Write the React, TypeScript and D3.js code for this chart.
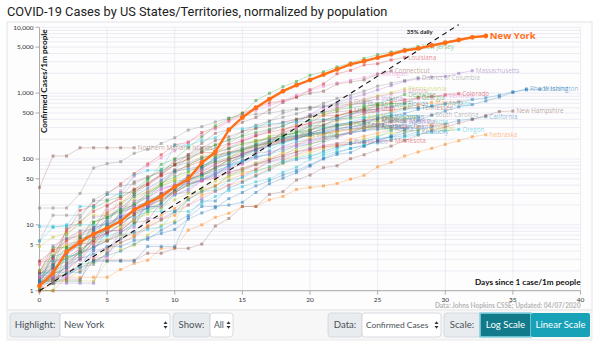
import React from "react";
import * as d3 from "d3";

const W = 600;
const H = 346;

const titleText = "COVID-19 Cases by US States/Territories, normalized by population";
const yTickValues = [1, 5, 10, 50, 100, 500, 1000, 5000, 10000];
const yTickLabels = ["1", "5", "10", "50", "100", "500", "1,000", "5,000", "10,000"];
const xTickValues = [0, 5, 10, 15, 20, 25, 30, 35, 40];
const growthLabel = "35% daily";
const growthRate = 0.35;
const growthDays = [0, 31];

const newYork = [1.18, 1.85, 3.9, 5.45, 7.3, 8.9, 11.3, 16.9, 21.6, 27, 37.6, 49.7, 87.7, 128, 276, 427, 602, 812, 1073, 1320, 1584, 1916, 2295, 2744, 3063, 3454, 3899, 4438, 4770, 5289, 5830, 6410, 7050, 7380];
const newJersey = [1.2, 1.7, 2.6, 3.3, 7.8, 11, 20, 30, 48, 83, 100, 149, 215, 320, 413, 495, 774, 994, 1252, 1507, 1873, 2105, 2505, 2881, 3366, 3842, 4222, 4626, 5100];
const louisiana = [2.8, 4.1, 7.7, 16.6, 19.6, 29, 42, 60, 84, 116, 164, 180, 252, 298, 386, 496, 590, 713, 761, 866, 1126, 1381, 1968, 2214, 2687, 2798, 3197, 3502];
const connecticut = [1.7, 3.1, 6.2, 6.7, 8.4, 19, 27, 45, 54, 62, 92, 116, 173, 245, 283, 362, 427, 558, 720, 876, 996, 1071, 1376, 1478, 1590, 1934, 2180];
const michigan = [2.5, 3.3, 5.3, 5.4, 6.5, 8.3, 33, 55, 79, 104, 133, 179, 230, 286, 366, 465, 549, 650, 762, 934, 1080, 1275, 1424, 1573, 1724, 1960];
const massachusetts = [1.0, 1.9, 4.0, 6.0, 13, 14, 16, 18, 20, 24, 29, 32, 48, 60, 76, 94, 113, 168, 267, 351, 470, 618, 719, 835, 960, 1123, 1301, 1509, 1650, 1750, 1800, 2000, 2190];
const districtOfColumbia = [5.7, 14, 14, 14, 23, 24, 31, 31, 44, 57, 100, 109, 139, 164, 194, 259, 327, 378, 431, 485, 568, 702, 831, 926, 1073, 1279, 1415, 1556, 1717];
const pennsylvania = [1.1, 1.7, 3.2, 3.7, 5.2, 6.0, 8.8, 11.9, 16, 24, 31, 40, 55, 74, 98, 140, 183, 222, 268, 325, 388, 469, 568, 670, 783, 905, 1014, 1160];
const delaware = [1.0, 1.0, 4.1, 6.2, 7.2, 8.2, 16, 20, 31, 39, 46, 48, 70, 107, 122, 134, 168, 220, 238, 271, 328, 378, 404, 462, 609, 692, 805, 954];
const vermont = [1.6, 1.6, 1.6, 3.2, 3.2, 3.2, 8.0, 12.8, 19, 19, 29, 35, 46, 78, 83, 120, 152, 196, 252, 294, 337, 375, 409, 468, 513, 540, 621, 736, 818, 867, 919];
const colorado = [1.4, 1.4, 2.1, 3.0, 5.9, 7.8, 8.5, 17.5, 23, 28, 32, 48, 63, 82, 103, 125, 158, 189, 248, 301, 358, 456, 456, 515, 580, 647, 724, 793, 859, 898, 943, 982];
const washington = [1.4, 2.4, 3.5, 5.1, 9.2, 10.2, 13.4, 16, 18, 21, 35, 48, 58, 75, 84, 119, 141, 156, 181, 200, 236, 262, 292, 306, 340, 421, 457, 489, 566, 643, 695, 737, 800, 850, 930, 1050, 1120, 1145];
const rhodeIsland = [1.9, 1.9, 1.9, 1.9, 2.8, 2.8, 2.8, 2.8, 4.7, 4.7, 4.7, 13, 19, 19, 20, 22, 31, 42, 51, 62, 78, 100, 117, 125, 156, 192, 225, 277, 385, 460, 534, 620, 671, 760, 870, 1021, 1160];
const newHampshire = [1.5, 1.5, 1.5, 1.5, 2.9, 2.9, 2.9, 2.9, 3.7, 3.7, 4.4, 4.4, 5.1, 9.6, 12.5, 19, 19, 29, 32, 48, 57, 74, 79, 101, 116, 138, 157, 190, 231, 270, 305, 352, 397, 457, 526, 535];
const california = [1.34, 1.52, 1.75, 2.2, 2.9, 3.4, 4.0, 5.1, 6.4, 7.4, 8.5, 12.2, 15.2, 18, 25, 31, 39, 47, 57, 67, 81, 103, 124, 145, 158, 188, 217, 249, 278, 309, 340, 384, 406, 439];
const oregon = [1.7, 1.7, 3.3, 3.6, 4.5, 5.7, 7.1, 7.6, 8.5, 9.3, 16, 16, 21, 27, 33, 38, 45, 50, 63, 75, 99, 114, 130, 144, 164, 175, 197, 214, 238, 254, 270, 281];
const nebraska = [1.0, 1.0, 1.6, 1.6, 1.6, 1.6, 2.1, 2.6, 2.9, 4.4, 4.5, 8.3, 10, 13, 15, 19, 19, 24, 27, 34.5, 37, 39, 42.5, 49.5, 56.5, 76, 89, 111, 128, 145, 167, 189, 218, 233];
const kentucky = [1.8, 1.8, 2.2, 3.1, 3.6, 4.7, 4.7, 5.8, 6.0, 8.3, 10.7, 14, 23, 23, 36, 44, 55, 68, 88, 98, 107, 132, 152, 172, 186, 205, 214, 226, 257];
const hawaii = [1.4, 1.4, 1.4, 1.4, 1.4, 2.8, 4.2, 4.9, 7.0, 9.9, 11.3, 26, 34, 39, 54, 63, 67, 75, 85, 106, 123, 144, 158, 182, 201, 225, 247, 261, 273, 289];
const southCarolina = [1.4, 1.4, 1.9, 2.3, 2.5, 3.7, 5.4, 6.4, 9.1, 11.7, 15.7, 24, 33, 38, 58, 66, 82, 91, 105, 128, 150, 180, 210, 251, 302, 330, 372, 398, 433, 469];
const tennessee = [1.0, 1.3, 2.6, 3.8, 4.7, 5.7, 7.6, 10.8, 11.6, 22.5, 34, 54, 74, 90, 98, 115, 140, 176, 201, 225, 269, 328, 393, 429, 486, 532, 557, 585, 606];
const florida = [1.3, 1.6, 2.3, 3.5, 5.4, 7.2, 10, 14.6, 18, 26, 31, 47, 57, 66, 78, 110, 135, 175, 198, 255, 314, 324, 419, 478, 537, 575, 620, 687];
const nevada = [1.3, 1.3, 1.6, 2.3, 4.5, 6.8, 7.8, 10, 18, 18, 28, 35, 52, 62, 80, 90, 104, 136, 174, 202, 240, 299, 327, 361, 415, 473, 492, 566, 596, 634, 678];
const illinois = [2.0, 2.5, 3.6, 5.1, 7.3, 8.3, 12.7, 22.6, 33, 46, 59, 83, 101, 121, 147, 200, 239, 276, 363, 399, 473, 551, 607, 703, 817, 888, 968, 1069];
const indiana = [1.8, 2.2, 2.8, 3.7, 4.5, 5.8, 8.3, 11.7, 18.7, 30, 38, 54, 71, 96, 146, 183, 225, 265, 321, 381, 452, 511, 587, 655, 735, 818];
const georgia = [1.6, 2.2, 2.9, 4.0, 6.2, 9.3, 11.4, 13.8, 18.8, 27, 40, 48, 57, 73, 97, 118, 144, 189, 223, 250, 265, 388, 448, 505, 563, 627, 690, 713, 864];
const maryland = [1.0, 1.3, 1.5, 2.0, 3.0, 4.3, 5.3, 6.8, 9.9, 14, 17.7, 25, 31, 40, 48, 58, 70, 96, 128, 164, 205, 234, 274, 328, 385, 456, 517, 597, 669, 722];
const ohio = [1.1, 2.2, 3.2, 4.3, 5.7, 7.5, 10.2, 14.4, 21, 30, 38, 48, 60, 74, 97, 120, 141, 165, 188, 218, 248, 283, 320, 346, 380, 409];
const texas = [1.3, 2.0, 2.5, 2.9, 4.9, 9.0, 13.6, 20, 26, 34, 42, 54, 67, 85, 99, 113, 138, 161, 184, 211, 235, 251, 285, 308, 330];
const virginia = [2.0, 3.5, 4.9, 5.8, 6.1, 8.7, 9.5, 11.8, 14.6, 18, 24, 30, 35, 46, 54, 71, 87, 104, 120, 138, 165, 200, 235, 260, 295, 360, 429];
const northCarolina = [1.4, 2.3, 3.1, 3.9, 6.0, 8.8, 12, 17, 24, 29, 35, 40, 48, 60, 72, 92, 108, 119, 135, 157, 170, 190, 225, 250, 275, 307];
const wisconsin = [1.4, 3.3, 3.8, 5.5, 8.2, 12, 18, 27, 36, 48, 65, 71, 78, 98, 121, 144, 167, 191, 212, 225, 250, 285, 330, 360, 380, 410, 443];
const missouri = [1.0, 1.6, 2.4, 3.9, 5.9, 9.4, 15, 29, 41, 60, 82, 116, 147, 190, 217, 262, 292, 322, 359, 403, 436, 470, 520, 542];
const mississippi = [2.0, 3.4, 7.0, 11, 18, 23, 27, 34, 50, 70, 83, 100, 130, 163, 195, 221, 254, 282, 315, 395, 445, 510, 555, 605, 640, 672];
const utah = [1.9, 3.1, 8.4, 11, 16, 20, 25, 35, 42, 57, 82, 99, 125, 126, 166, 188, 225, 254, 282, 317, 345, 385, 450, 520, 540, 577];
const maine = [1.5, 2.2, 9, 12.7, 24, 31, 39, 42, 52, 66, 80, 88, 106, 116, 125, 157, 189, 205, 226, 257, 281, 322, 340, 351, 372, 387];
const idaho = [2.8, 2.8, 4.5, 5.0, 6.1, 13, 17, 23, 26, 41, 69, 106, 128, 146, 173, 232, 293, 374, 498, 566, 602, 615, 654, 676, 688];
const guam = [18, 18, 18, 30, 73, 85, 91, 122, 140, 172, 210, 275, 310, 365, 420, 450, 480, 500, 540, 580, 610, 640, 690, 745];
const virginIslands = [9.5, 9.5, 9.5, 19, 19, 29, 29, 57, 67, 67, 162, 162, 190, 210, 286, 286, 314, 343, 352, 362, 381, 400, 410, 419, 429, 438];
const minnesota = [1.6, 2.5, 3.9, 6.2, 6.6, 9.9, 13, 15.6, 19.3, 24, 31, 41, 47, 51, 62, 70, 82, 98, 112, 129, 140, 152, 161, 170, 178, 184, 190];
const puertoRico = [1.6, 1.6, 1.6, 2.5, 4.1, 4.4, 6.0, 7.8, 12.5, 12.5, 16, 20, 25, 32, 40, 54, 70, 90, 99, 118, 143, 161, 172, 180];
const westVirginia = [1.1, 4.5, 4.5, 6.7, 11, 13, 15.6, 21, 29, 43, 54, 65, 79, 91, 106, 134, 158, 180, 212, 231];
const northernMariana = [37, 111, 111, 148, 148, 148, 148, 148];
const kansas = [1.7, 2.8, 3.1, 3.8, 6.2, 7.6, 15, 19, 22, 29, 39, 56, 77, 104, 115, 139, 160, 177, 200, 219, 241, 251, 275, 290, 300, 310];
const iowa = [2.5, 4.1, 4.8, 5.1, 5.4, 5.7, 7.0, 7.0, 9.5, 12, 14, 20, 28, 33, 40, 46, 57, 71, 95, 113, 134, 156, 170, 200, 222, 248, 275, 292, 310, 333];
const oklahoma = [1.8, 2.5, 4.5, 4.5, 11, 13, 17, 20, 27, 41, 63, 81, 102, 124, 143, 170, 185, 203, 226, 251, 278, 301, 320, 335];
const arkansas = [2.0, 4.0, 5.7, 7.3, 9.0, 15, 21, 33, 40, 55, 67, 78, 93, 113, 127, 138, 157, 174, 190, 207, 227, 247, 262, 283, 292, 315];
const newMexico = [1.9, 4.8, 6.2, 8.1, 8.6, 11, 13, 17, 20, 27, 31, 40, 48, 54, 63, 72, 85, 97, 113, 150, 171, 191, 222, 255, 297, 322, 378];
const southDakota = [5.7, 9.1, 10, 10, 10, 10, 12, 13, 16, 16, 16, 24, 32, 34, 47, 52, 64, 77, 92, 103, 114, 122, 143, 171, 183, 215, 271, 363];
const northDakota = [1.3, 1.3, 1.3, 1.3, 1.3, 3.9, 7.9, 9.2, 25, 37, 39, 42, 47, 59, 68, 86, 124, 129, 143, 166, 187, 209, 228, 245, 272, 296, 312];
const montana = [4.7, 6.5, 7.5, 10, 14, 14, 18, 25, 32, 43, 49, 61, 84, 112, 122, 144, 161, 173, 194, 212, 225, 246, 260, 279, 300];
const wyoming = [1.7, 1.7, 1.7, 5.2, 5.2, 17, 19, 19, 31, 34, 40, 45, 48, 64, 72, 83, 103, 121, 150, 162, 179, 206, 225, 258, 322, 340, 359, 372];
const alaska = [1.4, 1.4, 1.4, 1.4, 4.1, 8.2, 8.2, 12, 19, 19, 30, 42, 49, 56, 81, 96, 108, 116, 156, 182, 196, 215, 233, 252, 270, 280, 292];
const alabama = [1.2, 2.4, 5.9, 8.0, 10.4, 16, 22, 27, 32, 40, 49, 79, 110, 130, 147, 169, 193, 204, 226, 259, 313, 333, 376, 409, 443];
const arizona = [1.2, 1.6, 1.8, 2.5, 2.7, 3.7, 6.2, 10.7, 16, 21, 32, 45, 55, 70, 91, 106, 126, 159, 177, 210, 236, 266, 312, 337, 354, 374];

const C = {
  blue: "#1f77b4", orange: "#ff7f0e", green: "#2ca02c", red: "#d62728", purple: "#9467bd",
  brown: "#8c564b", pink: "#e377c2", gray: "#7f7f7f", olive: "#bcbd22", cyan: "#17becf",
};

const seriesNames = [
  "Alabama", "Alaska", "Arizona", "Arkansas", "California", "Colorado", "Connecticut", "Delaware",
  "District of Columbia", "Florida", "Georgia", "Guam", "Hawaii", "Idaho", "Illinois", "Indiana", "Iowa",
  "Kansas", "Kentucky", "Louisiana", "Maine", "Maryland", "Massachusetts", "Michigan", "Minnesota",
  "Mississippi", "Missouri", "Montana", "Nebraska", "Nevada", "New Hampshire", "New Jersey", "New Mexico",
  "North Carolina", "North Dakota", "Northern Mariana Islands", "Ohio", "Oklahoma", "Oregon", "Pennsylvania",
  "Puerto Rico", "Rhode Island", "South Carolina", "South Dakota", "Tennessee", "Texas", "Utah", "Vermont",
  "Virgin Islands", "Virginia", "Washington", "West Virginia", "Wisconsin", "Wyoming",
];
const seriesValues = [
  alabama, alaska, arizona, arkansas, california, colorado, connecticut, delaware,
  districtOfColumbia, florida, georgia, guam, hawaii, idaho, illinois, indiana, iowa,
  kansas, kentucky, louisiana, maine, maryland, massachusetts, michigan, minnesota,
  mississippi, missouri, montana, nebraska, nevada, newHampshire, newJersey, newMexico,
  northCarolina, northDakota, northernMariana, ohio, oklahoma, oregon, pennsylvania,
  puertoRico, rhodeIsland, southCarolina, southDakota, tennessee, texas, utah, vermont,
  virginIslands, virginia, washington, westVirginia, wisconsin, wyoming,
];
const seriesColors = [
  C.olive, C.blue, C.green, C.red, C.blue, C.red, C.brown, C.green,
  C.gray, C.blue, C.green, C.gray, C.olive, C.gray, C.pink, C.purple, C.orange,
  C.blue, C.blue, C.red, C.gray, C.orange, C.purple, C.pink, C.red,
  C.green, C.brown, C.olive, C.orange, C.cyan, C.brown, C.green, C.purple,
  C.cyan, C.purple, C.brown, C.red, C.green, C.cyan, C.olive,
  C.purple, C.blue, C.gray, C.cyan, C.brown, C.purple, C.red, C.pink,
  C.cyan, C.olive, C.blue, C.green, C.blue, C.pink,
];
const highlightName = "New York";
const highlightColor = "#ff6f17";

const xS = d3.scaleLinear().domain([0, 40]).range([39.5, 580.5]);
const yS = d3.scaleLog().domain([1, 10000]).range([290.7, 27.3]);

const lineGen = d3.line<number>().x((_, i) => xS(i)).y((v) => yS(v));

const minorTicks: number[] = [];
[1, 10, 100, 1000].forEach((p) => {
  for (let m = 1; m <= 9; m++) minorTicks.push(m * p);
});
minorTicks.push(10000);

function Arrows({ x, y }: { x: number; y: number }) {
  return (
    <g fill="#333">
      <path d={`M${x - 2},${y - 1} L${x + 2},${y - 1} L${x},${y - 3.8} Z`} />
      <path d={`M${x - 2},${y + 1} L${x + 2},${y + 1} L${x},${y + 3.8} Z`} />
    </g>
  );
}

function Controls() {
  const y0 = 313;
  const h = 24;
  const cy = y0 + h / 2 + 3.3;
  const font = "Lato, 'Open Sans', sans-serif";
  const fs = 9.6;
  const lab = (x: number, w: number, t: string) => (
    <g>
      <rect x={x} y={y0} width={w} height={h} rx={3} fill="#e9ecef" stroke="#ced4da" strokeWidth={0.8} />
      <text x={x + w / 2} y={cy} textAnchor="middle" fontSize={fs} fill="#495057" fontFamily={font}>{t}</text>
    </g>
  );
  const sel = (x: number, w: number, t: string, size: number) => (
    <g>
      <rect x={x} y={y0} width={w} height={h} rx={3} fill="#fff" stroke="#ced4da" strokeWidth={0.8} />
      <text x={x + 4} y={cy} fontSize={size} fill="#495057" fontFamily={font}>{t}</text>
      <Arrows x={x + w - 4.5} y={y0 + h / 2} />
    </g>
  );
  return (
    <g>
      <rect x={7} y={310} width={585} height={30} fill="#f7f7f7" stroke="#e6e6e6" strokeWidth={0.8} />
      {lab(10, 50, "Highlight:")}
      {sel(60, 110, "New York", fs)}
      {lab(173, 37, "Show:")}
      {sel(210, 23, "All", 8.6)}
      {lab(328, 34, "Data:")}
      {sel(362, 79, "Confirmed Cases", 8.4)}
      {lab(444, 36, "Scale:")}
      <rect x={480} y={y0} width={51} height={h} fill="#117a8b" stroke="#86d3df" strokeWidth={1.6} />
      <text x={505.5} y={cy} textAnchor="middle" fontSize={fs} fill="#fff" fontFamily={font}>Log Scale</text>
      <rect x={531} y={y0} width={59} height={h} rx={2} fill="#17a2b8" />
      <text x={560.5} y={cy} textAnchor="middle" fontSize={fs} fill="#fff" fontFamily={font}>Linear Scale</text>
    </g>
  );
}

export default function App() {
  const axisFont = "Lato, 'Open Sans', sans-serif";
  const labelFont = "'Open Sans', Lato, sans-serif";
  const gx0 = xS(0);
  const gx1 = xS(40);
  const gy0 = yS(10000);
  const gy1 = yS(1);
  const gEnd = growthDays[1];
  return (
    <svg width={W} height={H} style={{ position: "absolute", left: 0, top: 0, background: "#fff" }}>
      <text x={7} y={16} fontSize={12.8} fill="#222" fontFamily="Roboto, sans-serif">{titleText}</text>
      <rect x={7} y={22} width={585} height={288} fill="#fdfdfe" stroke="#e4e4e8" strokeWidth={1} />
      <g>
        {minorTicks.map((v) => (
          <line key={"h" + v} x1={gx0} x2={gx1} y1={yS(v)} y2={yS(v)} stroke="#e9e6f0" strokeWidth={0.8} />
        ))}
        {xTickValues.slice(1).map((d) => (
          <line key={"v" + d} x1={xS(d)} x2={xS(d)} y1={gy0} y2={gy1} stroke="#e9e6f0" strokeWidth={0.8} />
        ))}
      </g>
      <g fontFamily={axisFont} fontSize={6.5} fill="#333">
        <line x1={gx0} x2={gx0} y1={gy0} y2={gy1} stroke="#999" strokeWidth={0.8} />
        <line x1={gx0} x2={gx1} y1={gy1} y2={gy1} stroke="#999" strokeWidth={0.8} />
        {yTickValues.map((v, i) => (
          <g key={"yt" + v}>
            <line x1={gx0 - 4} x2={gx0} y1={yS(v)} y2={yS(v)} stroke="#999" strokeWidth={0.8} />
            <text x={gx0 - 6} y={yS(v) + 2.2} textAnchor="end">{yTickLabels[i]}</text>
          </g>
        ))}
        {xTickValues.map((d) => (
          <g key={"xt" + d}>
            <line x1={xS(d)} x2={xS(d)} y1={gy1} y2={gy1 + 4} stroke="#999" strokeWidth={0.8} />
            <text x={xS(d)} y={gy1 + 11} textAnchor="middle">{d}</text>
          </g>
        ))}
      </g>
      <g>
        {seriesValues.map((vals, i) => (
          <path key={"l" + i} d={lineGen(vals) || ""} fill="none" stroke={seriesColors[i]} strokeOpacity={0.3} strokeWidth={0.9} />
        ))}
        {seriesValues.map((vals, i) => (
          <g key={"m" + i} fill={seriesColors[i]} fillOpacity={0.5}>
            {vals.map((v, j) => (
              <rect key={j} x={xS(j) - 1.5} y={yS(v) - 1.5} width={3} height={3} />
            ))}
          </g>
        ))}
      </g>
      <line
        x1={xS(growthDays[0])}
        y1={yS(Math.pow(1 + growthRate, growthDays[0]))}
        x2={xS(gEnd)}
        y2={yS(Math.pow(1 + growthRate, gEnd))}
        stroke="#111"
        strokeWidth={1.1}
        strokeDasharray="5,4"
      />
      <text x={xS(29) + 1} y={yS(8000)} textAnchor="end" fontSize={6} fontWeight="bold" fill="#222" fontFamily={axisFont}>{growthLabel}</text>
      <g fontFamily={labelFont} fontSize={6.3}>
        {seriesValues.map((vals, i) => {
          const j = vals.length - 1;
          return (
            <text key={"t" + i} x={xS(j) + 3.5} y={yS(vals[j]) + 2.2} fill={seriesColors[i]} fillOpacity={0.55}>
              {seriesNames[i]}
            </text>
          );
        })}
      </g>
      <path d={lineGen(newYork) || ""} fill="none" stroke={highlightColor} strokeWidth={2.4} />
      {newYork.map((v, j) => (
        <circle key={"ny" + j} cx={xS(j)} cy={yS(v)} r={2.4} fill={highlightColor} />
      ))}
      <text x={xS(newYork.length - 1) + 4} y={yS(newYork[newYork.length - 1]) + 3.3} fill={highlightColor} fontSize={9.5} fontWeight="bold" fontFamily={labelFont}>{highlightName}</text>
      <text transform={`translate(${gx0 + 7.5},${gy0 + 2}) rotate(-90)`} textAnchor="end" fontSize={8.2} fontWeight="bold" fill="#111" fontFamily={axisFont}>Confirmed Cases/1m people</text>
      <text x={gx1} y={gy1 - 6} textAnchor="end" fontSize={8.2} fontWeight="bold" fill="#111" fontFamily={axisFont}>Days since 1 case/1m people</text>
      <text x={gx1} y={gy1 + 17} textAnchor="end" fontSize={6.6} fontWeight="bold" fill="#b5b5b5" fontFamily={axisFont}>Data: Johns Hopkins CSSE; Updated: 04/07/2020</text>
      <Controls />
    </svg>
  );
}
